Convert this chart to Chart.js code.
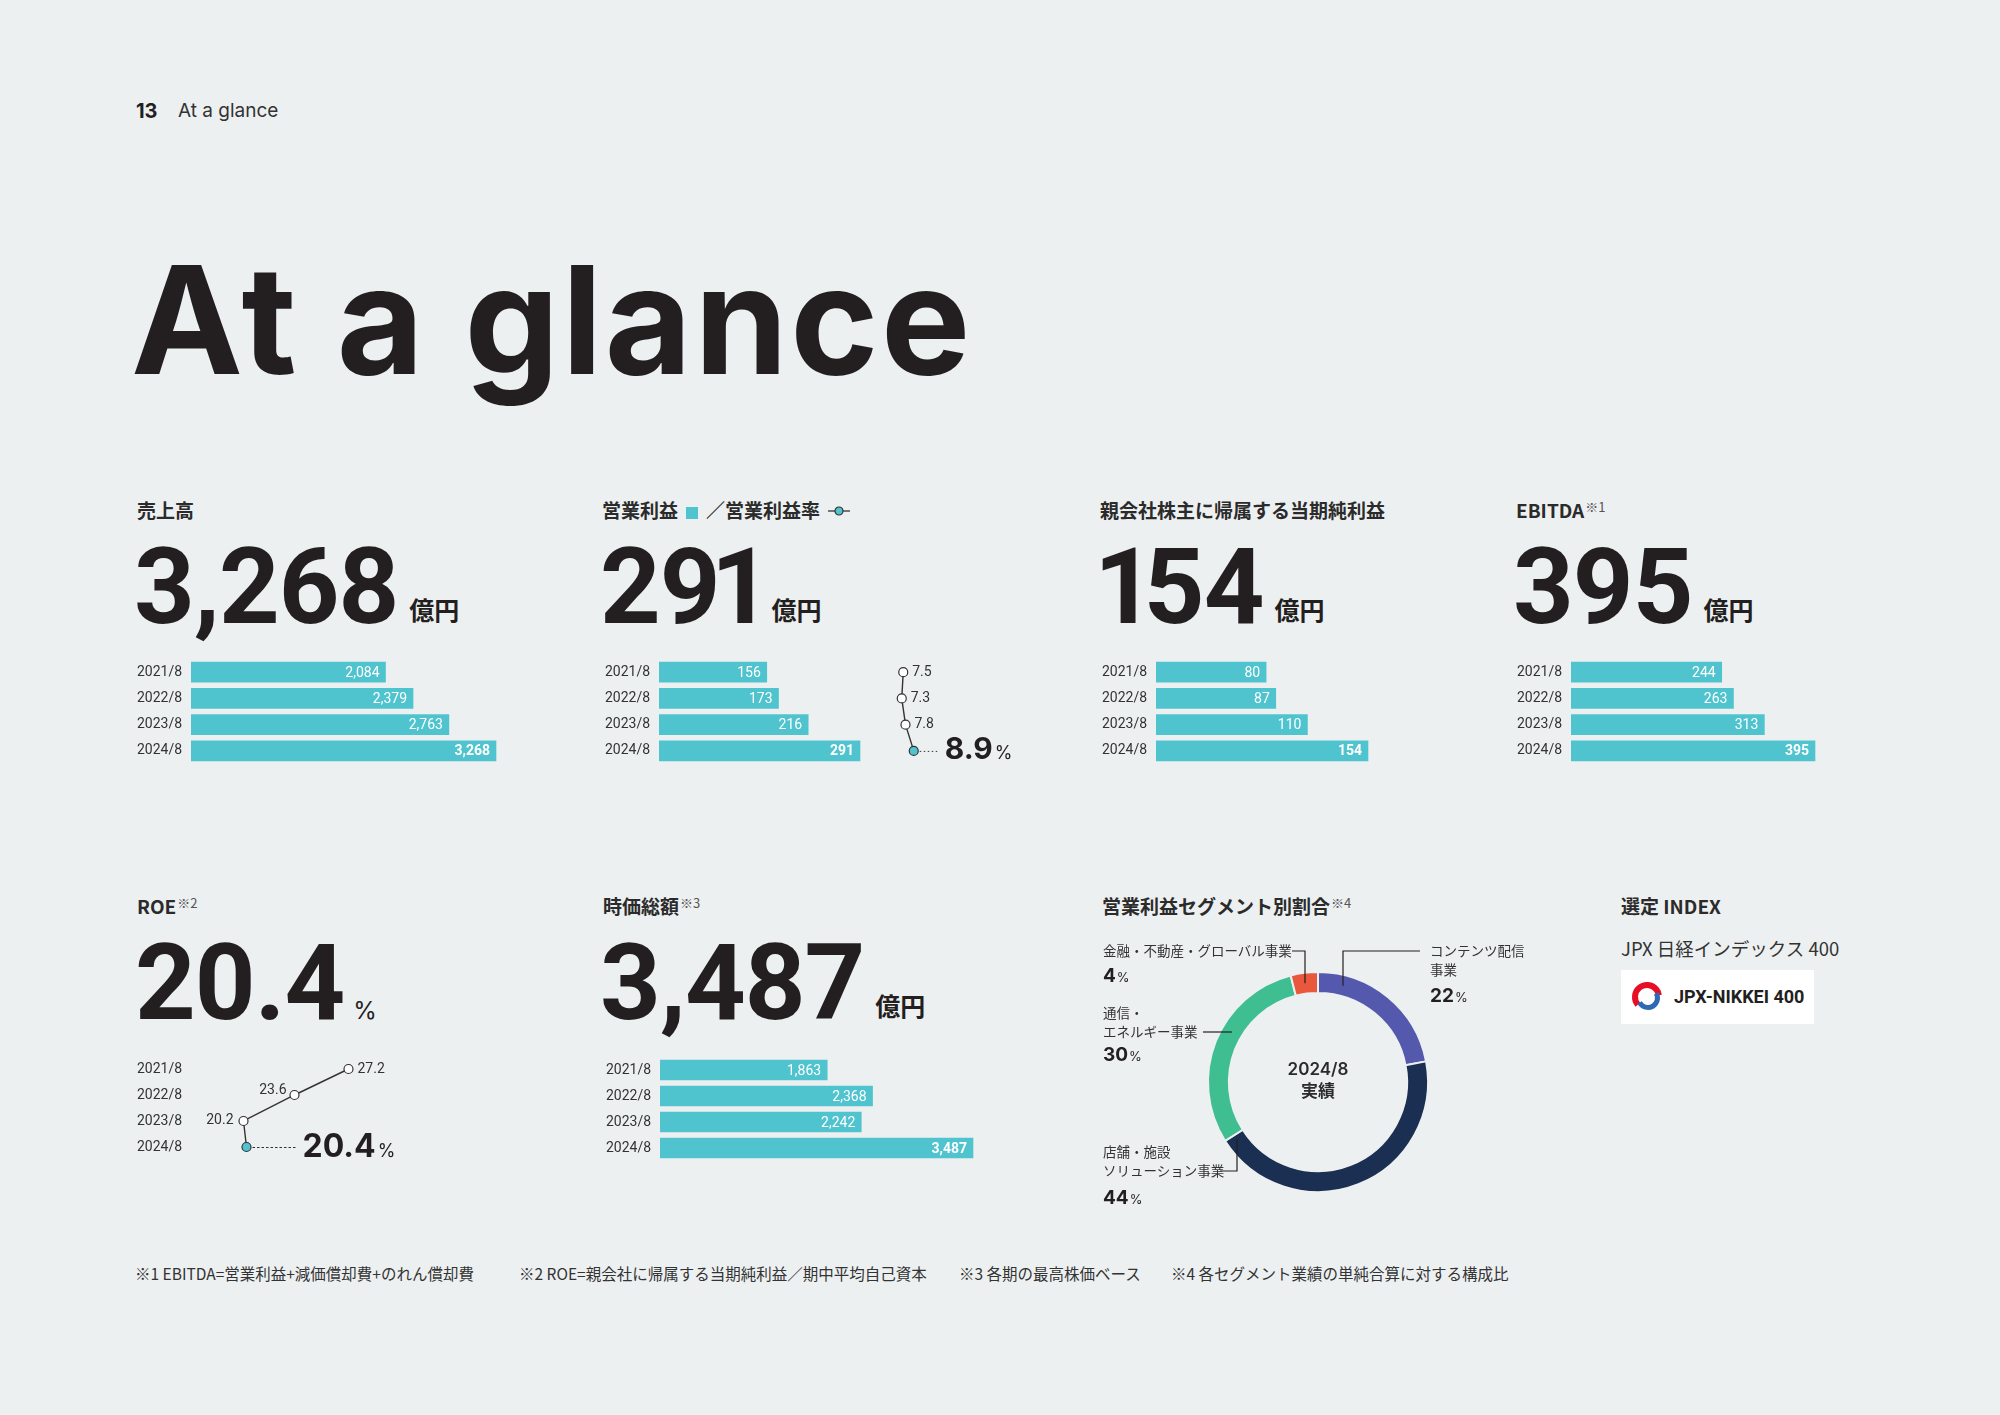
<!DOCTYPE html>
<html lang="ja">
<head>
<meta charset="utf-8">
<title>At a glance</title>
<script src="https://cdn.jsdelivr.net/npm/chart.js@4.4.1/dist/chart.umd.min.js"></script>
<style>
html, body { margin: 0; padding: 0; background: #edf0f1; }
#page { position: relative; width: 2000px; height: 1415px; overflow: hidden; background: #edf0f1; color: #231f20;
  font-family: "Noto Sans CJK JP", "Noto Sans", sans-serif; }
.t { position: absolute; white-space: nowrap; line-height: 1; }
canvas { position: absolute; }
.lab { font-size: 19px; font-weight: 700; color: #2b2b2b; }
.lab sup { font-size: 13px; font-weight: 400; color: #555; vertical-align: 6px; margin-left: 1px; }
.big { font-family: Roboto, sans-serif; font-weight: 700; font-size: 106px; letter-spacing: -1px; color: #231f20; }
.big .one { letter-spacing: -11px; }
.big .pre { letter-spacing: -10px; }
.unit { font-family: "Noto Sans CJK JP", sans-serif; font-weight: 700; font-size: 25px; letter-spacing: 0; margin-left: 11px; vertical-align: 3px; }
.pct { font-family: Inter, sans-serif; font-weight: 400; font-size: 24px; letter-spacing: 0; margin-left: 9px; }
.cl { font-size: 13.5px; color: #333; }
.share { font-family: Inter, sans-serif; font-weight: 700; font-size: 19px; color: #231f20; }
.share span { font-weight: 400; font-size: 13px; margin-left: 1px; }
.note { font-size: 15.5px; color: #333; top: 1266px; }
</style>
</head>
<body>
<div id="page">
  <div class="t" style="left:136px;top:101px;font-family:Inter;font-weight:700;font-size:20px;">13</div>
  <div class="t" style="left:178px;top:101px;font-family:Inter;font-weight:400;font-size:19px;color:#333;">At a glance</div>
  <div class="t" style="left:131px;top:245px;font-family:Inter;font-weight:700;font-size:150px;letter-spacing:2.5px;">At a glance</div>

  <!-- row 1 -->
  <div class="t lab" style="left:137px;top:500px;">売上高</div>
  <div class="t lab" style="left:602px;top:500px;">営業利益<span style="display:inline-block;width:12px;height:12px;background:#50c4ce;margin:0 8px 0 8px;vertical-align:-1px;"></span>／営業利益率<svg width="22" height="12" style="margin-left:8px;vertical-align:1px;"><line x1="0" y1="6" x2="22" y2="6" stroke="#333" stroke-width="1.3"/><circle cx="11" cy="6" r="4" fill="#50c4ce" stroke="#333" stroke-width="1.2"/></svg></div>
  <div class="t lab" style="left:1100px;top:500px;">親会社株主に帰属する当期純利益</div>
  <div class="t lab" style="left:1516px;top:500px;">EBITDA<sup>※1</sup></div>

  <div class="t big" id="h-sales" style="left:134px;top:534px;"></div>
  <div class="t big" id="h-op" style="left:600px;top:534px;"></div>
  <div class="t big" id="h-net" style="left:1094px;top:534px;"></div>
  <div class="t big" id="h-ebitda" style="left:1513px;top:534px;"></div>

  <canvas id="c-sales" width="374" height="105" style="left:137px;top:659px;"></canvas>
  <canvas id="c-op" width="270" height="105" style="left:605px;top:659px;"></canvas>
  <canvas id="c-margin" width="140" height="105" style="left:877px;top:659px;"></canvas>
  <canvas id="c-net" width="284" height="105" style="left:1102px;top:659px;"></canvas>
  <canvas id="c-ebitda" width="314" height="105" style="left:1517px;top:659px;"></canvas>

  <!-- row 2 -->
  <div class="t lab" style="left:137px;top:896px;">ROE<sup>※2</sup></div>
  <div class="t lab" style="left:603px;top:896px;">時価総額<sup>※3</sup></div>
  <div class="t lab" style="left:1102px;top:896px;">営業利益セグメント別割合<sup>※4</sup></div>
  <div class="t lab" style="left:1621px;top:896px;">選定 INDEX</div>
  <div class="t" style="left:1621px;top:939px;font-size:18.5px;color:#333;">JPX 日経インデックス 400</div>
  <div style="position:absolute;left:1621px;top:970px;width:193px;height:54px;background:#fff;"></div>
  <svg width="36" height="36" viewBox="0 0 36 36" style="position:absolute;left:1629px;top:979px;">
    <circle cx="18" cy="18" r="12" fill="none" stroke="#e60f26" stroke-width="6" stroke-dasharray="44 100" transform="rotate(140 18 18)"/>
    <circle cx="19" cy="19" r="9.5" fill="none" stroke="#2f68b4" stroke-width="5" stroke-dasharray="30 100" transform="rotate(-30 19 19)"/>
  </svg>
  <div class="t" style="left:1674px;top:988px;font-family:Roboto;font-weight:700;font-size:18px;color:#231f20;">JPX-NIKKEI 400</div>

  <div class="t big" id="h-roe" style="left:135px;top:930px;"></div>
  <div class="t big" id="h-cap" style="left:600px;top:930px;"></div>

  <canvas id="c-roe" width="284" height="104" style="left:137px;top:1056px;"></canvas>
  <canvas id="c-cap" width="384" height="104" style="left:606px;top:1057px;"></canvas>
  <canvas id="c-seg" width="440" height="285" style="left:1100px;top:930px;"></canvas>

  <div class="t" style="left:1258px;top:1061px;width:120px;text-align:center;font-family:Inter;font-weight:600;font-size:17px;color:#2b2b2b;">2024/8</div>
  <div class="t" style="left:1258px;top:1081px;width:120px;text-align:center;font-weight:700;font-size:17px;color:#2b2b2b;">実績</div>

  <div class="t cl" style="left:1103px;top:944px;">金融・不動産・グローバル事業</div>
  <div class="t share" id="s3" style="left:1103px;top:966px;"></div>
  <div class="t cl" style="left:1430px;top:944px;">コンテンツ配信</div>
  <div class="t cl" style="left:1430px;top:963px;">事業</div>
  <div class="t share" id="s0" style="left:1430px;top:986px;"></div>
  <div class="t cl" style="left:1103px;top:1006px;">通信・</div>
  <div class="t cl" style="left:1103px;top:1025px;">エネルギー事業</div>
  <div class="t share" id="s2" style="left:1103px;top:1045px;"></div>
  <div class="t cl" style="left:1103px;top:1145px;">店舗・施設</div>
  <div class="t cl" style="left:1103px;top:1164px;">ソリューション事業</div>
  <div class="t share" id="s1" style="left:1103px;top:1188px;"></div>

  <div class="t note" style="left:135px;">※1 EBITDA=営業利益+減価償却費+のれん償却費</div>
  <div class="t note" style="left:519px;">※2 ROE=親会社に帰属する当期純利益／期中平均自己資本</div>
  <div class="t note" style="left:959px;">※3 各期の最高株価ベース</div>
  <div class="t note" style="left:1171px;">※4 各セグメント業績の単純合算に対する構成比</div>
</div>

<script>
// values
const years = ['2021/8', '2022/8', '2023/8', '2024/8'];
const sales = [2084, 2379, 2763, 3268];
const opIncome = [156, 173, 216, 291];
const opMargin = [7.5, 7.3, 7.8, 8.9];
const netIncome = [80, 87, 110, 154];
const ebitda = [244, 263, 313, 395];
const roe = [27.2, 23.6, 20.2, 20.4];
const marketCap = [1863, 2368, 2242, 3487];
const segments = ['コンテンツ配信事業', '店舗・施設ソリューション事業', '通信・エネルギー事業', '金融・不動産・グローバル事業'];
const segmentShare = [22, 44, 30, 4];

const TEAL = '#50c4ce';
const INK = '#333333';
const fmt = v => v.toLocaleString('en-US');
const last = a => a[a.length - 1];

// headline numbers; tighten around "1" like the original typeface
function headline(s) {
  return s.split('').map((c, i) => {
    if (c === '1') return '<span class="one">1</span>';
    if (s[i + 1] === '1') return '<span class="pre">' + c + '</span>';
    return c;
  }).join('');
}
document.getElementById('h-sales').innerHTML = headline(fmt(last(sales))) + '<span class="unit">億円</span>';
document.getElementById('h-op').innerHTML = headline(fmt(last(opIncome))) + '<span class="unit">億円</span>';
document.getElementById('h-net').innerHTML = headline(fmt(last(netIncome))) + '<span class="unit">億円</span>';
document.getElementById('h-ebitda').innerHTML = headline(fmt(last(ebitda))) + '<span class="unit">億円</span>';
document.getElementById('h-cap').innerHTML = headline(fmt(last(marketCap))) + '<span class="unit">億円</span>';
document.getElementById('h-roe').innerHTML = headline(last(roe).toFixed(1)) + '<span class="pct">%</span>';
segmentShare.forEach((v, i) => {
  document.getElementById('s' + i).innerHTML = v + '<span>%</span>';
});

const yearAxis = {
  grid: { display: false },
  border: { display: false },
  ticks: { crossAlign: 'far', padding: 0, color: INK, font: { family: 'Roboto', size: 14 } },
  afterFit(axis) {
    axis.width = 54;
    axis.paddingTop = 0;
    axis.paddingBottom = 0;
  }
};

// value text inside the bar end
const barValues = {
  id: 'barValues',
  afterDatasetsDraw(chart) {
    const ctx = chart.ctx;
    const data = chart.data.datasets[0].data;
    ctx.save();
    ctx.fillStyle = '#fff';
    ctx.textAlign = 'right';
    ctx.textBaseline = 'middle';
    chart.getDatasetMeta(0).data.forEach((bar, i) => {
      ctx.font = (i === data.length - 1 ? 'bold ' : '') + '14px Roboto';
      ctx.fillText(fmt(data[i]), bar.x - 6, bar.y + 1);
    });
    ctx.restore();
  }
};

// lastLen = pixel length of the last bar in the reference
function barChart(id, values, lastLen) {
  const cv = document.getElementById(id);
  const areaW = cv.width - 54;
  return new Chart(cv, {
    type: 'bar',
    data: { labels: years, datasets: [{ data: values, backgroundColor: TEAL, barThickness: 20, borderWidth: 0 }] },
    options: {
      indexAxis: 'y',
      responsive: false,
      animation: false,
      devicePixelRatio: 1,
      layout: { padding: 0, autoPadding: false },
      plugins: { legend: { display: false }, tooltip: { enabled: false } },
      scales: {
        x: { display: false, min: 0, max: last(values) * areaW / lastLen },
        y: yearAxis
      }
    },
    plugins: [barValues]
  });
}

// labels next to points, big value for the latest year
const pointLabels = {
  id: 'pointLabels',
  afterDatasetsDraw(chart, args, o) {
    const ctx = chart.ctx;
    const data = chart.data.datasets[0].data;
    ctx.save();
    chart.getDatasetMeta(0).data.forEach((pt, i) => {
      const pos = o.pos[i];
      const txt = data[i].toFixed(1);
      ctx.fillStyle = INK;
      if (pos === 'big') {
        ctx.strokeStyle = INK;
        ctx.lineWidth = 1;
        ctx.setLineDash(o.dash);
        ctx.beginPath();
        ctx.moveTo(pt.x + 6, pt.y + 0.5);
        ctx.lineTo(pt.x + o.gap - 5, pt.y + 0.5);
        ctx.stroke();
        ctx.setLineDash([]);
        ctx.fillStyle = '#231f20';
        ctx.textAlign = 'left';
        ctx.textBaseline = 'alphabetic';
        ctx.font = '700 ' + o.bigSize + 'px Inter';
        ctx.fillText(txt, pt.x + o.gap, pt.y + o.bigDrop);
        const w = ctx.measureText(txt).width;
        ctx.font = '400 18px Inter';
        ctx.fillText('%', pt.x + o.gap + w + 2, pt.y + o.bigDrop);
        return;
      }
      ctx.font = '14px Roboto';
      ctx.textBaseline = 'middle';
      if (pos === 'right') {
        ctx.textAlign = 'left';
        ctx.fillText(txt, pt.x + 9, pt.y);
      } else if (pos === 'leftUp') {
        ctx.textAlign = 'right';
        ctx.fillText(txt, pt.x - 8, pt.y - 5);
      } else {
        ctx.textAlign = 'right';
        ctx.fillText(txt, pt.x - 10, pt.y - 1);
      }
    });
    ctx.restore();
  }
};

function lineChart(id, values, xMin, pxPerUnit, withYears, labelOpts) {
  const cv = document.getElementById(id);
  const areaW = cv.width - (withYears ? 54 : 0);
  return new Chart(cv, {
    type: 'line',
    data: {
      labels: years,
      datasets: [{
        data: values,
        borderColor: INK,
        borderWidth: 1.4,
        pointRadius: 4.5,
        pointBorderWidth: 1.2,
        pointBorderColor: INK,
        pointBackgroundColor: values.map((v, i) => i === values.length - 1 ? TEAL : '#fff'),
        clip: false,
        tension: 0
      }]
    },
    options: {
      indexAxis: 'y',
      responsive: false,
      animation: false,
      devicePixelRatio: 1,
      layout: { padding: 0, autoPadding: false },
      plugins: { legend: { display: false }, tooltip: { enabled: false }, pointLabels: labelOpts },
      scales: {
        x: { display: false, min: xMin, max: xMin + areaW / pxPerUnit },
        y: withYears ? Object.assign({ offset: true }, yearAxis) : { display: false, offset: true }
      }
    },
    plugins: [pointLabels]
  });
}

barChart('c-sales', sales, 305);
barChart('c-op', opIncome, 201);
barChart('c-net', netIncome, 212);
barChart('c-ebitda', ebitda, 244);
barChart('c-cap', marketCap, 313);

lineChart('c-margin', opMargin, 4, 7.5, false,
  { pos: ['right', 'right', 'right', 'big'], gap: 31, dash: [1.5, 2.5], bigSize: 30, bigDrop: 8 });
lineChart('c-roe', roe, 16.7, 15, true,
  { pos: ['right', 'leftUp', 'left', 'big'], gap: 56, dash: [2.5, 2], bigSize: 32, bigDrop: 10 });

// segment doughnut with leader lines (page coordinates, canvas at 1100,930)
const leaders = [
  { y: 951, x1: 1420, x2: 1343, mode: 'v' },
  { y: 1171, x1: 1220, x2: 1237, mode: 'v' },
  { y: 1032, x1: 1203, mode: 'h' },
  { y: 951, x1: 1292, x2: 1305, mode: 'v' }
];
const leaderLines = {
  id: 'leaderLines',
  afterDatasetsDraw(chart) {
    const ctx = chart.ctx;
    const arc = chart.getDatasetMeta(0).data[0];
    const cx = arc.x, cy = arc.y;
    const r = (arc.outerRadius + arc.innerRadius) / 2;
    ctx.save();
    ctx.strokeStyle = '#231f20';
    ctx.lineWidth = 1.2;
    leaders.forEach(l => {
      const y = l.y - 930, x1 = l.x1 - 1100;
      ctx.beginPath();
      ctx.moveTo(x1, y);
      if (l.mode === 'v') {
        const x2 = l.x2 - 1100;
        const dy = Math.sqrt(r * r - (x2 - cx) * (x2 - cx));
        ctx.lineTo(x2, y);
        ctx.lineTo(x2, y < cy ? cy - dy : cy + dy);
      } else {
        const dx = Math.sqrt(r * r - (y - cy) * (y - cy));
        ctx.lineTo(x1 < cx ? cx - dx : cx + dx, y);
      }
      ctx.stroke();
    });
    ctx.restore();
  }
};

new Chart(document.getElementById('c-seg'), {
  type: 'doughnut',
  data: {
    labels: segments,
    datasets: [{
      data: segmentShare,
      backgroundColor: ['#5559ad', '#1b2f52', '#3fbf91', '#e9573c'],
      borderColor: '#edf0f1',
      borderWidth: 2
    }]
  },
  options: {
    responsive: false,
    animation: false,
    devicePixelRatio: 1,
    cutout: '81%',
    layout: { padding: { left: 107, right: 111, top: 41, bottom: 22 } },
    plugins: { legend: { display: false }, tooltip: { enabled: false } }
  },
  plugins: [leaderLines]
});
</script>
</body>
</html>
